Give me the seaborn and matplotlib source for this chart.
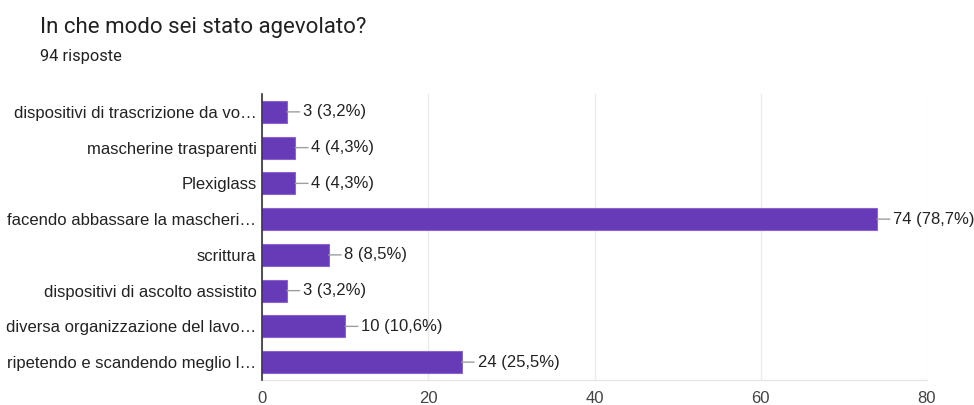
import matplotlib
matplotlib.use("Agg")
import matplotlib.pyplot as plt
import seaborn as sns
import pandas as pd

# Survey answers and counts
categories = [
    "dispositivi di trascrizione da vo…",
    "mascherine trasparenti",
    "Plexiglass",
    "facendo abbassare la mascheri…",
    "scrittura",
    "dispositivi di ascolto assistito",
    "diversa organizzazione del lavo…",
    "ripetendo e scandendo meglio l…",
]
counts = [3, 4, 4, 74, 8, 3, 10, 24]
percent_labels = ["3,2%", "4,3%", "4,3%", "78,7%", "8,5%", "3,2%", "10,6%", "25,5%"]
x_ticks = [0, 20, 40, 60, 80]

title = "In che modo sei stato agevolato?"
subtitle = "94 risposte"

df = pd.DataFrame({"categoria": categories, "risposte": counts})

sns.set_theme(style="white")
plt.rcParams["font.family"] = ["Liberation Sans", "DejaVu Sans"]
chart_font = 12

fig = plt.figure(figsize=(9.74, 4.05), dpi=100)
ax = fig.add_axes([262 / 974, 1 - 380 / 405, (927 - 262) / 974, (380 - 94) / 405])

bar_color = "#673ab7"
sns.barplot(data=df, x="risposte", y="categoria", orient="h", color=bar_color,
            saturation=1, width=0.62, ax=ax, edgecolor="#8a66cc", linewidth=0.8)

ax.set_xlim(0, 80)
ax.set_ylim(len(categories) - 0.5, -0.5)
ax.set_xticks(x_ticks)
ax.set_xticklabels([str(t) for t in x_ticks])
ax.set_xlabel("")
ax.set_ylabel("")

ax.grid(axis="x", color="#ebebeb", linewidth=1)
ax.set_axisbelow(True)
for side in ["top", "right"]:
    ax.spines[side].set_visible(False)
ax.spines["left"].set_color("#333333")
ax.spines["left"].set_linewidth(1.2)
ax.spines["bottom"].set_color("#e6e6e6")
ax.spines["bottom"].set_linewidth(1)
ax.spines["left"].set_zorder(5)

ax.tick_params(axis="y", length=0, pad=4, labelsize=chart_font, labelcolor="#222222")
ax.tick_params(axis="x", length=0, pad=8, labelsize=chart_font, labelcolor="#444444")

# Value labels with a short leader line
for i, (c, p) in enumerate(zip(counts, percent_labels)):
    ax.annotate(f"{c} ({p})", xy=(c, i), xytext=(16, 0), textcoords="offset pixels",
                ha="left", va="center", fontsize=chart_font, color="#222222",
                arrowprops=dict(arrowstyle="-", color="#9e9e9e", lw=1,
                                shrinkA=0, shrinkB=0, relpos=(0, 0.5)),
                annotation_clip=False)

fig.text(40 / 974, 1 - 27 / 405, title, fontsize=16, color="#212121",
         ha="left", va="center", family=["Roboto", "DejaVu Sans"])
fig.text(40 / 974, 1 - 56 / 405, subtitle, fontsize=11.8, color="#212121",
         ha="left", va="center", family=["Roboto", "DejaVu Sans"])

fig.savefig("out.png", dpi=100, facecolor="white")
